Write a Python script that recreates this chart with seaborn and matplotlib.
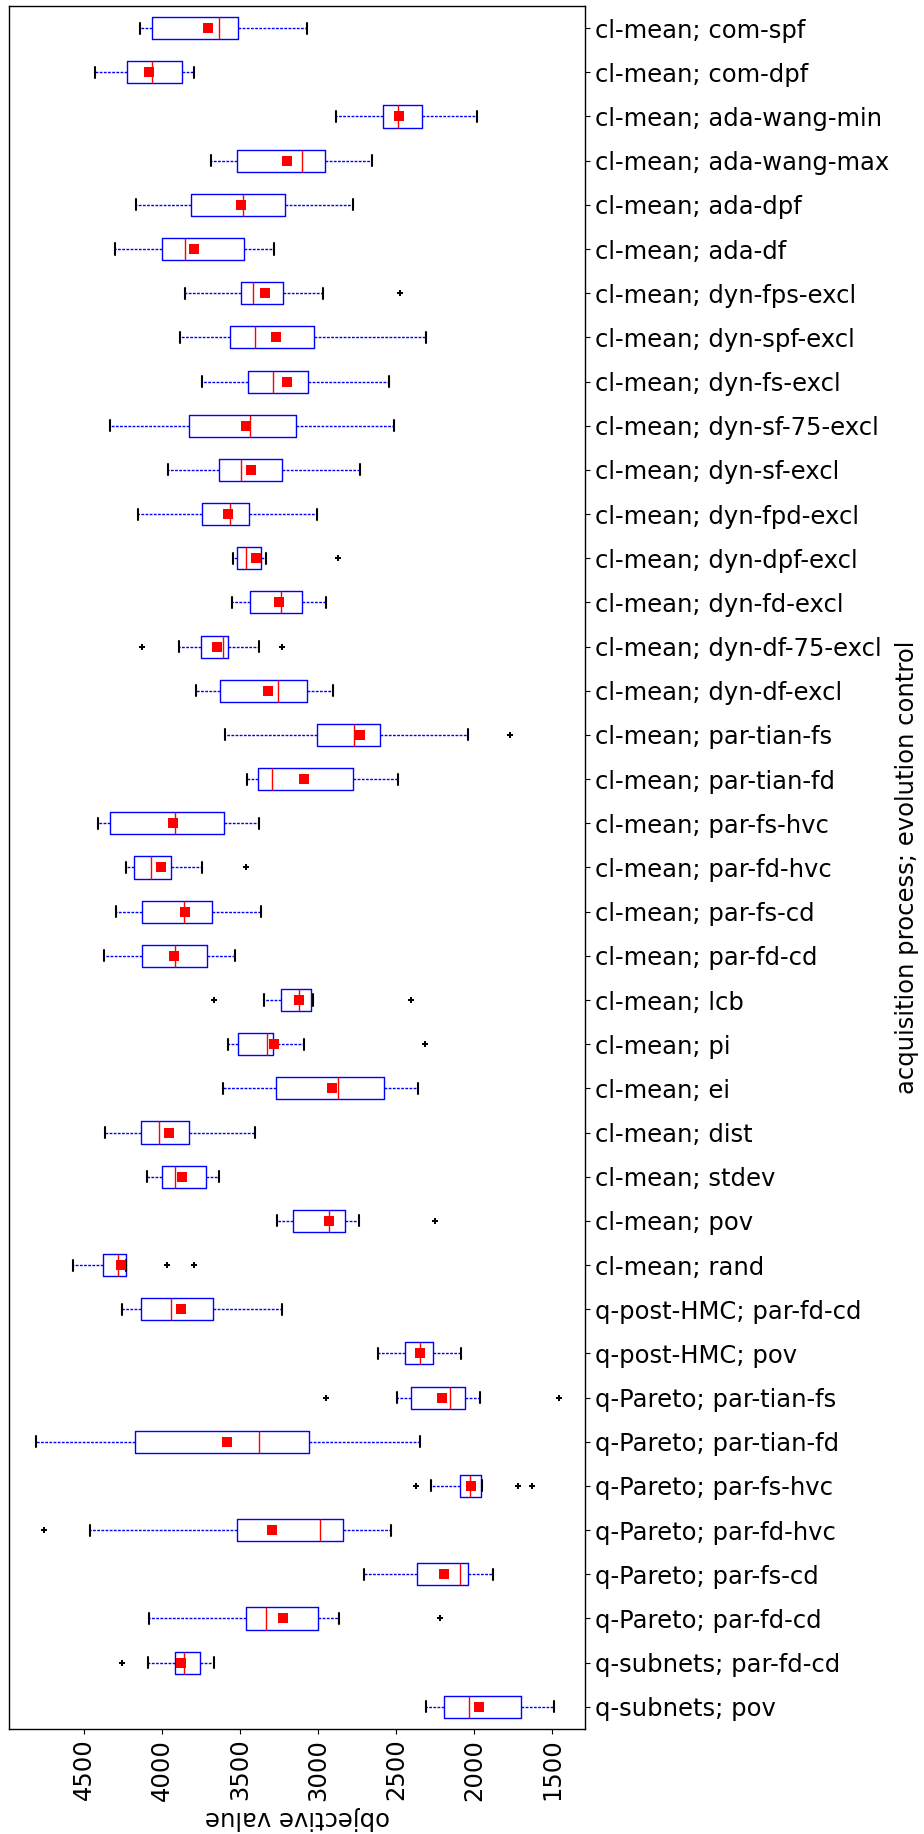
import numpy as np
import pandas as pd
import seaborn as sns
import matplotlib
matplotlib.use("Agg")
import matplotlib.pyplot as plt

labels = [
    "cl-mean; com-spf", "cl-mean; com-dpf", "cl-mean; ada-wang-min", "cl-mean; ada-wang-max",
    "cl-mean; ada-dpf", "cl-mean; ada-df", "cl-mean; dyn-fps-excl", "cl-mean; dyn-spf-excl",
    "cl-mean; dyn-fs-excl", "cl-mean; dyn-sf-75-excl", "cl-mean; dyn-sf-excl", "cl-mean; dyn-fpd-excl",
    "cl-mean; dyn-dpf-excl", "cl-mean; dyn-fd-excl", "cl-mean; dyn-df-75-excl", "cl-mean; dyn-df-excl",
    "cl-mean; par-tian-fs", "cl-mean; par-tian-fd", "cl-mean; par-fs-hvc", "cl-mean; par-fd-hvc",
    "cl-mean; par-fs-cd", "cl-mean; par-fd-cd", "cl-mean; lcb", "cl-mean; pi", "cl-mean; ei",
    "cl-mean; dist", "cl-mean; stdev", "cl-mean; pov", "cl-mean; rand",
    "q-post-HMC; par-fd-cd", "q-post-HMC; pov", "q-Pareto; par-tian-fs", "q-Pareto; par-tian-fd",
    "q-Pareto; par-fs-hvc", "q-Pareto; par-fd-hvc", "q-Pareto; par-fs-cd", "q-Pareto; par-fd-cd",
    "q-subnets; par-fd-cd", "q-subnets; pov",
]

# box statistics
whislo = [3068, 3796, 1979, 2653, 2773, 3283, 2966, 2306, 2546, 2511, 2731, 3005, 3330, 2951,
          3379, 2905, 2040, 2489, 3379, 3740, 3362, 3530, 3034, 3093, 2362, 3401, 3635, 2736,
          4229, 3232, 2084, 1964, 2345, 1949, 2531, 1879, 2868, 3667, 1490]
q1 = [3511, 3872, 2336, 2954, 3213, 3476, 3222, 3024, 3063, 3139, 3230, 3442, 3364, 3103,
      3577, 3068, 2604, 2778, 3601, 3943, 3677, 3713, 3044, 3291, 2577, 3828, 3716, 2827,
      4229, 3672, 2262, 2057, 3059, 1954, 2841, 2040, 2998, 3753, 1700]
med = [3635, 4060, 2485, 3103, 3481, 3850, 3415, 3403, 3288, 3435, 3494, 3564, 3462, 3240,
       3611, 3254, 2768, 3296, 3914, 4072, 3855, 3919, 3122, 3327, 2871, 4016, 3919, 2929,
       4283, 3943, 2345, 2155, 3376, 2030, 2985, 2094, 3332, 3860, 2033]
q3 = [4060, 4226, 2582, 3520, 3811, 4002, 3491, 3562, 3447, 3828, 3633, 3743, 3518, 3435,
      3752, 3626, 3007, 3384, 4329, 4180, 4124, 4126, 3237, 3511, 3269, 4134, 3997, 3159,
      4380, 4136, 2446, 2404, 4170, 2089, 3518, 2365, 3462, 3919, 2194]
whishi = [4143, 4429, 2883, 3684, 4163, 4297, 3850, 3887, 3743, 4331, 3963, 4151, 3545, 3552,
          3889, 3784, 3596, 3457, 4407, 4231, 4292, 4373, 3344, 3574, 3611, 4361, 4092, 3264,
          4568, 4256, 2614, 2492, 4808, 2277, 4459, 2704, 4080, 4087, 2311]
means = [3706, 4082, 2480, 3198, 3494, 3794, 3342, 3266, 3198, 3462, 3430, 3577, 3396, 3252,
         3645, 3323, 2734, 3090, 3928, 4007, 3853, 3921, 3125, 3281, 2912, 3953, 3870, 2927,
         4261, 3877, 2348, 2206, 3584, 2018, 3293, 2194, 3227, 3880, 1967]

# outliers: category index and value
flier_idx = [6, 12, 14, 14, 16, 19, 22, 22, 23, 27, 28, 28, 31, 31, 33, 33, 33, 34, 36, 37]
flier_val = [2472, 2875, 4129, 3230, 1769, 3459, 3667, 2406, 2316, 2253, 3965, 3794,
             2946, 1456, 2370, 1722, 1632, 4752, 2216, 4253]

sns.set_style("ticks")
plt.rcParams["font.family"] = "DejaVu Sans"
plt.rcParams["axes.edgecolor"] = "black"
plt.rcParams["text.color"] = "black"
plt.rcParams["xtick.color"] = "black"
plt.rcParams["ytick.color"] = "black"
plt.rcParams["axes.labelcolor"] = "black"

n = len(labels)
pos = np.arange(n)

stats = []
for i in range(n):
    stats.append({"whislo": whislo[i], "q1": q1[i], "med": med[i], "q3": q3[i],
                  "whishi": whishi[i], "fliers": [], "label": labels[i]})

fig = plt.figure(figsize=(9.24, 18.34), dpi=100)
ax = fig.add_axes([0.0097, 0.0573, 0.6235, 0.9394])

ax.bxp(stats, positions=pos, widths=0.5, orientation="horizontal", showfliers=False,
       boxprops=dict(color="blue", linewidth=1),
       medianprops=dict(color="red", linewidth=1),
       whiskerprops=dict(color="blue", linestyle=(0, (2, 1)), linewidth=1),
       capprops=dict(color="black", linewidth=1.5))

df_mean = pd.DataFrame({"value": means, "pos": pos})
df_fl = pd.DataFrame({"value": flier_val, "pos": flier_idx})
sns.scatterplot(data=df_mean, x="value", y="pos", marker="s", color="red", s=42,
                linewidth=0, zorder=5, ax=ax)
sns.scatterplot(data=df_fl, x="value", y="pos", marker="P", color="black", s=16,
                linewidth=0, zorder=5, ax=ax)

ax.set_ylim(n - 0.5, -0.5)
ax.set_xlim(4979, 1290)
ax.set_yticks(pos)
ax.set_yticklabels(labels, fontsize=17.5)
ax.yaxis.tick_right()
ax.yaxis.set_label_position("right")
ax.set_xticks([4500, 4000, 3500, 3000, 2500, 2000, 1500])
ax.tick_params(axis="x", labelrotation=90, labelsize=17.5)
ax.set_xlabel("objective value", fontsize=17.5, rotation=180)
ax.set_ylabel("acquisition process; evolution control", fontsize=17.5, rotation=90)
for sp in ax.spines.values():
    sp.set_linewidth(1.0)

fig.savefig("out.png", dpi=100)
